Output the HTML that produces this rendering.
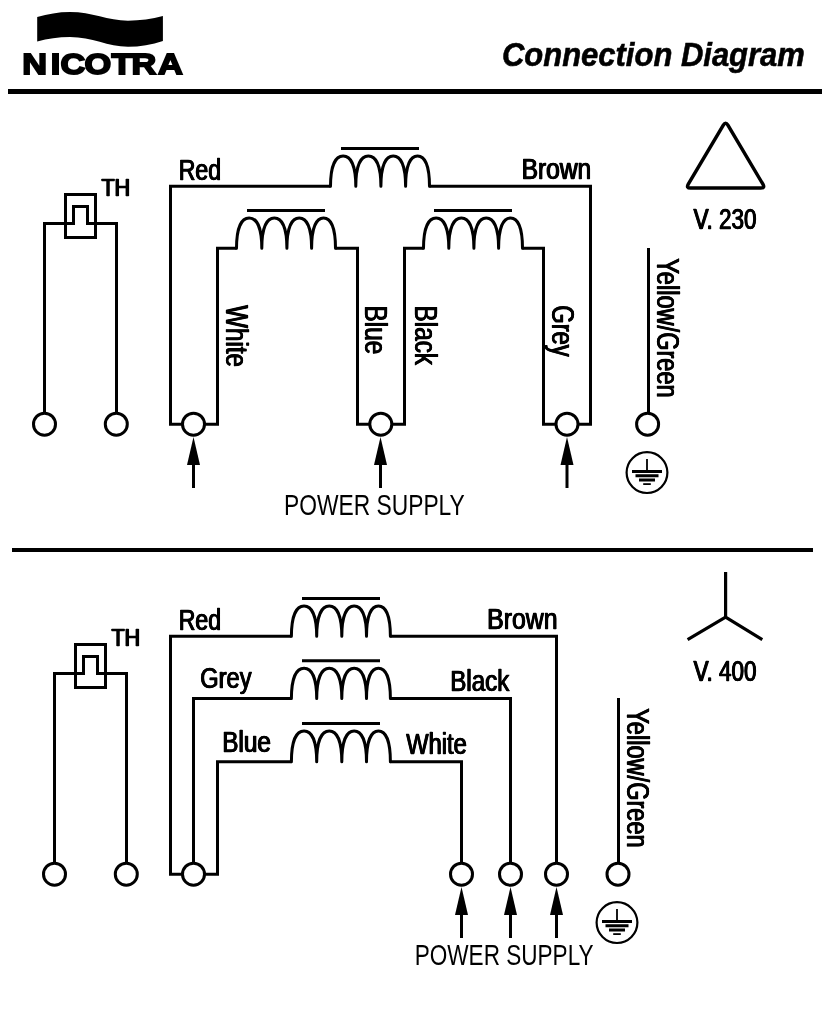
<!DOCTYPE html>
<html lang="en">
<head>
<meta charset="utf-8">
<title>Connection Diagram</title>
<style>
html,body{margin:0;padding:0;background:#fff;}
body{width:827px;height:1014px;overflow:hidden;}
#page{position:relative;width:827px;height:1014px;overflow:hidden;background:#fff;will-change:transform;}
svg{display:block;position:absolute;left:0;top:0;}
.t{position:absolute;left:0;top:0;margin:0;padding:0;white-space:nowrap;line-height:1;transform-origin:0 0;color:#000;font-family:"Liberation Sans",sans-serif;font-weight:normal;}
.lb{font-size:30.2px;text-shadow:.7px 0 #000,-.7px 0 #000;-webkit-text-stroke:.4px #000;}
.lr{font-size:30.8px;text-shadow:.65px 0 #000,-.65px 0 #000;-webkit-text-stroke:.35px #000;}
.th{font-size:24.2px;text-shadow:.8px 0 #000,-.8px 0 #000;-webkit-text-stroke:.6px #000;}
.v{font-size:29.2px;text-shadow:.75px 0 #000,-.75px 0 #000;-webkit-text-stroke:.4px #000;}
.ps{font-size:28.7px;}
.title{font-size:33.8px;font-weight:bold;font-style:italic;-webkit-text-stroke:.6px #000;}
.logo{font-family:"Liberation Sans",sans-serif;font-size:30.1px;font-weight:bold;-webkit-text-stroke:1.8px #000;fill:#000;stroke:#000;stroke-width:1.8px;}
.w{fill:none;stroke:#000;stroke-width:3;stroke-linecap:butt;stroke-linejoin:miter;}
.c{fill:none;stroke:#000;stroke-width:3;stroke-linecap:round;stroke-linejoin:round;}
.e{fill:none;stroke:#000;stroke-width:2.2;}
</style>
</head>
<body>
<div id="page">
<svg width="827" height="1014" viewBox="0 0 827 1014">
<path d="M37.2,17.1 C48,14 58,12 70,12 C92,12 108,20.7 128,20.7 C140,20.7 152,19 162.9,16.1 L162.9,40.9 C152,44.5 140,46.7 128,46.7 C108,46.7 92,37 70,37 C58,37 48,38.5 37.2,41.5 Z" fill="#000"/>
<rect x="8" y="89" width="814" height="5" fill="#000"/>
<rect x="12" y="548" width="801" height="4" fill="#000"/>
<path d="M44.5,413 V223.5 H73.5 V206.5 H87.5 V223.5 H116.5 V413" class="w" stroke-linecap="butt"/><rect x="65.5" y="194.5" width="30" height="43" class="w"/>
<circle cx="44.5" cy="424.2" r="11" class="w"/>
<circle cx="116.3" cy="424.2" r="11" class="w"/>
<circle cx="193.5" cy="424.2" r="11" class="w"/>
<circle cx="380.8" cy="424.2" r="11" class="w"/>
<circle cx="567" cy="424.2" r="11" class="w"/>
<circle cx="647.6" cy="424.2" r="11" class="w"/>
<path d="M182.5,424.2 H170.5 V186.3 H330.5" class="w"/>
<path d="M330.50,186.30 C330.50,166.84 335.05,155.90 343.15,155.90 C351.25,155.90 355.80,166.84 355.80,186.30 M355.80,186.30 C355.80,166.84 360.32,155.90 368.35,155.90 C376.38,155.90 380.90,166.84 380.90,186.30 M380.90,186.30 C380.90,166.84 385.35,155.90 393.25,155.90 C401.15,155.90 405.60,166.84 405.60,186.30 M405.60,186.30 C405.60,166.84 409.90,155.90 417.55,155.90 C425.20,155.90 429.50,166.84 429.50,186.30" class="c"/>
<path d="M429.5,186.3 H590.5 V424.2 H578" class="w"/>
<path d="M341,148.40 H419" class="w"/>
<path d="M204.5,424.2 H217.5 V248.3 H236.5" class="w"/>
<path d="M236.50,248.30 C236.50,228.84 241.05,217.90 249.15,217.90 C257.25,217.90 261.80,228.84 261.80,248.30 M261.80,248.30 C261.80,228.84 266.32,217.90 274.35,217.90 C282.38,217.90 286.90,228.84 286.90,248.30 M286.90,248.30 C286.90,228.84 291.35,217.90 299.25,217.90 C307.15,217.90 311.60,228.84 311.60,248.30 M311.60,248.30 C311.60,228.84 315.90,217.90 323.55,217.90 C331.20,217.90 335.50,228.84 335.50,248.30" class="c"/>
<path d="M335.5,248.3 H357.5 V424.2 H370" class="w"/>
<path d="M247,210.40 H325" class="w"/>
<path d="M392,424.2 H404.5 V248.3 H423.5" class="w"/>
<path d="M423.50,248.30 C423.50,228.84 428.05,217.90 436.15,217.90 C444.25,217.90 448.80,228.84 448.80,248.30 M448.80,248.30 C448.80,228.84 453.32,217.90 461.35,217.90 C469.38,217.90 473.90,228.84 473.90,248.30 M473.90,248.30 C473.90,228.84 478.35,217.90 486.25,217.90 C494.15,217.90 498.60,228.84 498.60,248.30 M498.60,248.30 C498.60,228.84 502.90,217.90 510.55,217.90 C518.20,217.90 522.50,228.84 522.50,248.30" class="c"/>
<path d="M522.5,248.3 H543.5 V424.2 H556" class="w"/>
<path d="M434,210.40 H512" class="w"/>
<path d="M648.5,248 V413.2" class="w"/>
<circle cx="647" cy="472.6" r="20.4" class="e"/><path d="M647,459.1 V471.6" class="e" style="stroke-width:1.8"/><path d="M632,471.5 H662 M635.5,475.8 H658.5 M639,480.0 H655" class="e" style="stroke-width:3"/><path d="M643.2,484.1 H650.8" class="e" style="stroke-width:1.8"/>
<path d="M193.5,488 V464" class="w"/><path d="M193.5,437 L200.0,465 H187.0 Z" fill="#000"/>
<path d="M380.5,488 V464" class="w"/><path d="M380.5,437 L387.0,465 H374.0 Z" fill="#000"/>
<path d="M567,488 V464" class="w"/><path d="M567,437 L573.5,465 H560.5 Z" fill="#000"/>
<path d="M723.31,125.17 Q725.60,121.30 727.89,125.17 L762.91,184.23 Q765.20,188.10 760.70,188.10 L690.50,188.10 Q686.00,188.10 688.29,184.23 Z" class="w" style="stroke-linejoin:round;stroke-width:3.5"/>
<path d="M54.5,863 V673.5 H83.5 V656.5 H97.5 V673.5 H126.5 V863" class="w" stroke-linecap="butt"/><rect x="75.5" y="644.5" width="30" height="43" class="w"/>
<circle cx="54.5" cy="874.2" r="11" class="w"/>
<circle cx="126.3" cy="874.2" r="11" class="w"/>
<circle cx="193.5" cy="874.2" r="11" class="w"/>
<circle cx="461.5" cy="874.2" r="11" class="w"/>
<circle cx="510.5" cy="874.2" r="11" class="w"/>
<circle cx="556.5" cy="874.2" r="11" class="w"/>
<circle cx="618" cy="874.2" r="11" class="w"/>
<path d="M182.5,874.2 H170.5 V636.3 H291.4" class="w"/>
<path d="M291.40,636.30 C291.40,616.84 295.95,605.90 304.05,605.90 C312.15,605.90 316.70,616.84 316.70,636.30 M316.70,636.30 C316.70,616.84 321.22,605.90 329.25,605.90 C337.28,605.90 341.80,616.84 341.80,636.30 M341.80,636.30 C341.80,616.84 346.25,605.90 354.15,605.90 C362.05,605.90 366.50,616.84 366.50,636.30 M366.50,636.30 C366.50,616.84 370.80,605.90 378.45,605.90 C386.10,605.90 390.40,616.84 390.40,636.30" class="c"/>
<path d="M390.4,636.3 H556.5 V863.2" class="w"/>
<path d="M302,598.40 H380" class="w"/>
<path d="M193.5,863.2 V698.6 H291.4" class="w"/>
<path d="M291.40,698.60 C291.40,679.14 295.95,668.20 304.05,668.20 C312.15,668.20 316.70,679.14 316.70,698.60 M316.70,698.60 C316.70,679.14 321.22,668.20 329.25,668.20 C337.28,668.20 341.80,679.14 341.80,698.60 M341.80,698.60 C341.80,679.14 346.25,668.20 354.15,668.20 C362.05,668.20 366.50,679.14 366.50,698.60 M366.50,698.60 C366.50,679.14 370.80,668.20 378.45,668.20 C386.10,668.20 390.40,679.14 390.40,698.60" class="c"/>
<path d="M390.4,698.6 H510.5 V863.2" class="w"/>
<path d="M302,660.70 H380" class="w"/>
<path d="M204.5,874.2 H217.5 V761.8 H291.4" class="w"/>
<path d="M291.40,761.80 C291.40,742.09 295.95,731.00 304.05,731.00 C312.15,731.00 316.70,742.09 316.70,761.80 M316.70,761.80 C316.70,742.09 321.22,731.00 329.25,731.00 C337.28,731.00 341.80,742.09 341.80,761.80 M341.80,761.80 C341.80,742.09 346.25,731.00 354.15,731.00 C362.05,731.00 366.50,742.09 366.50,761.80 M366.50,761.80 C366.50,742.09 370.80,731.00 378.45,731.00 C386.10,731.00 390.40,742.09 390.40,761.80" class="c"/>
<path d="M390.4,761.8 H461.5 V863.2" class="w"/>
<path d="M302,723.40 H380" class="w"/>
<path d="M618.5,698 V863.2" class="w"/>
<circle cx="617" cy="922.6" r="20.4" class="e"/><path d="M617,909.1 V921.6" class="e" style="stroke-width:1.8"/><path d="M602,921.5 H632 M605.5,925.8000000000001 H628.5 M609,930.0 H625" class="e" style="stroke-width:3"/><path d="M613.2,934.1 H620.8" class="e" style="stroke-width:1.8"/>
<path d="M461.5,938 V914" class="w"/><path d="M461.5,887 L468.0,915 H455.0 Z" fill="#000"/>
<path d="M510.5,938 V914" class="w"/><path d="M510.5,887 L517.0,915 H504.0 Z" fill="#000"/>
<path d="M556.5,938 V914" class="w"/><path d="M556.5,887 L563.0,915 H550.0 Z" fill="#000"/>
<path d="M725.6,572 V617.5 M725.6,617.2 L687.6,639.6 M725.6,617.2 L762.3,639.6" class="w" style="stroke-width:3.2"/>
<text class="logo" transform="translate(0,74) scale(1.14,1)" x="19.50 44.63 53.13 74.07 97.86 115.46 138.63" y="0">NICOTRA</text>
</svg>
<div id="logo"></div>
<span class="t title" style="transform:translate(501.92px,37.65px) scaleX(0.9167)">Connection Diagram</span>
<span class="t th" style="transform:translate(101.38px,175.85px) scaleX(0.8941)">TH</span>
<span class="t lb" style="transform:translate(178.68px,154.95px) scaleX(0.7651)">Red</span>
<span class="t lb" style="transform:translate(521.60px,154.05px) scaleX(0.8135)">Brown</span>
<span class="t lr" style="transform:translate(250.85px,305.36px) rotate(90deg) scaleX(0.7827)">White</span>
<span class="t lr" style="transform:translate(390.15px,305.59px) rotate(90deg) scaleX(0.7904)">Blue</span>
<span class="t lr" style="transform:translate(440.15px,305.60px) rotate(90deg) scaleX(0.7873)">Black</span>
<span class="t lr" style="transform:translate(576.95px,305.16px) rotate(90deg) scaleX(0.7719)">Grey</span>
<span class="t lr" style="transform:translate(681.95px,258.26px) rotate(90deg) scaleX(0.7659)">Yellow/Green</span>
<span class="t ps" style="transform:translate(284.12px,491.00px) scaleX(0.7945)">POWER SUPPLY</span>
<span class="t v" style="transform:translate(693.62px,204.75px) scaleX(0.7697)">V. 230</span>
<span class="t th" style="transform:translate(111.38px,625.85px) scaleX(0.8941)">TH</span>
<span class="t lb" style="transform:translate(178.68px,604.95px) scaleX(0.7651)">Red</span>
<span class="t lb" style="transform:translate(200.27px,662.85px) scaleX(0.7835)">Grey</span>
<span class="t lb" style="transform:translate(222.21px,726.55px) scaleX(0.8059)">Blue</span>
<span class="t lb" style="transform:translate(487.18px,603.95px) scaleX(0.8220)">Brown</span>
<span class="t lb" style="transform:translate(450.22px,665.95px) scaleX(0.8010)">Black</span>
<span class="t lb" style="transform:translate(406.27px,728.65px) scaleX(0.7840)">White</span>
<span class="t lr" style="transform:translate(651.95px,708.26px) rotate(90deg) scaleX(0.7659)">Yellow/Green</span>
<span class="t ps" style="transform:translate(414.73px,941.20px) scaleX(0.7864)">POWER SUPPLY</span>
<span class="t v" style="transform:translate(693.62px,656.75px) scaleX(0.7697)">V. 400</span>
</div>
</body>
</html>
